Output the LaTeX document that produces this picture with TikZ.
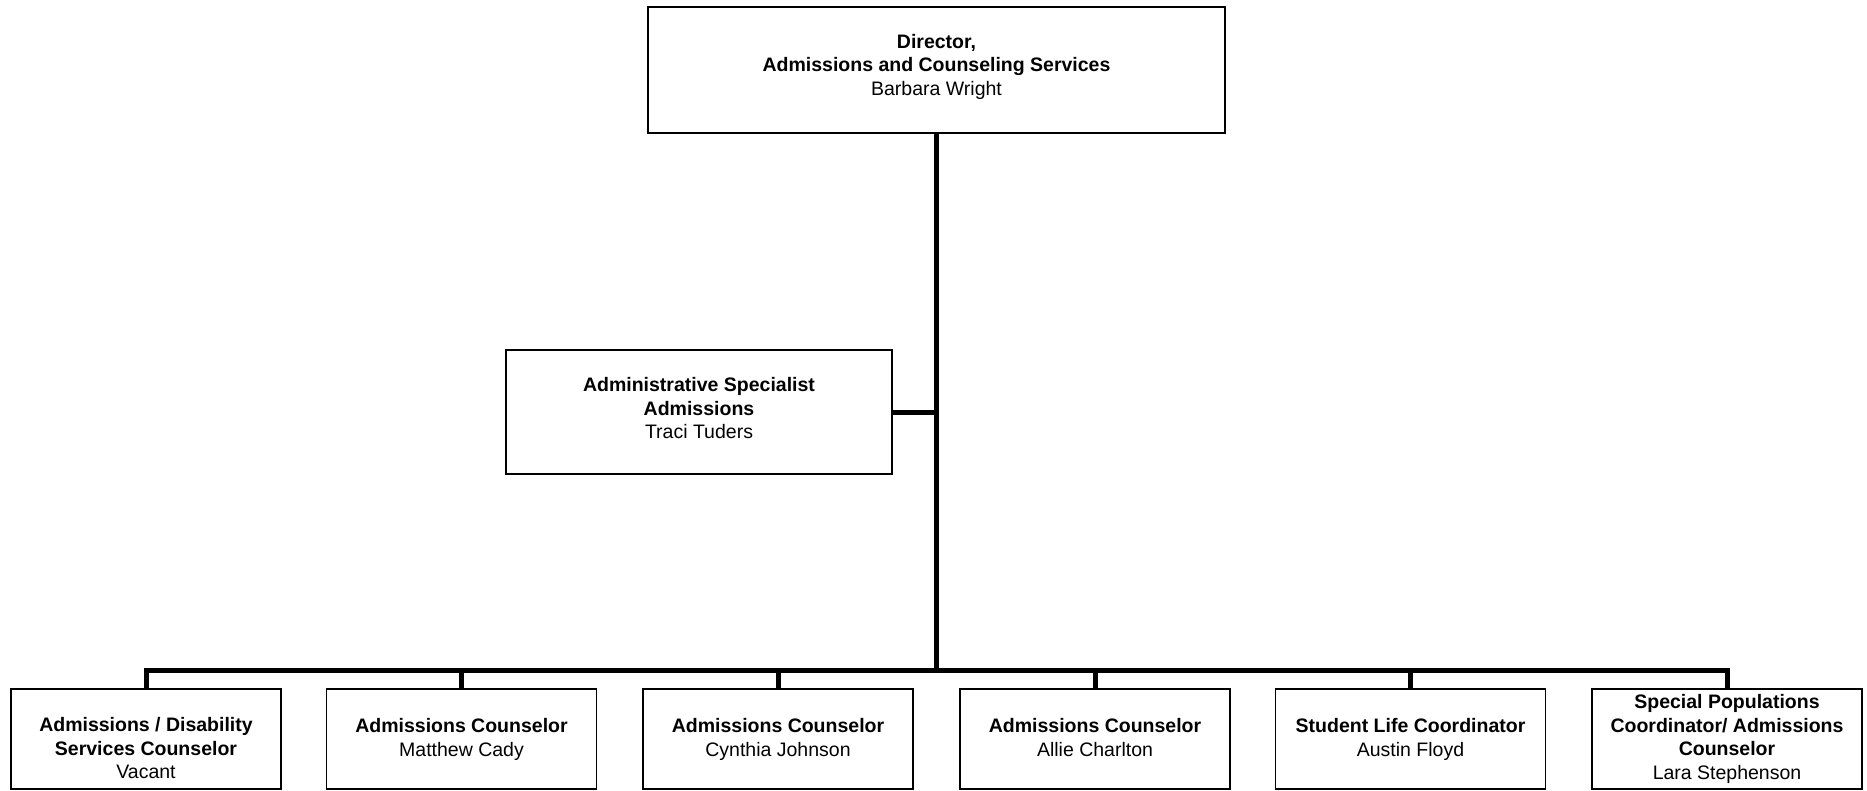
\documentclass[tikz,border=0pt]{standalone}
\usepackage{fontspec}
\setmainfont{Liberation Sans}
\begin{document}
\begin{tikzpicture}[x=1pt,y=-1pt,
  box/.style={draw, line width=1.6pt, inner sep=0pt},
  bbox/.style={box, minimum width=270pt, minimum height=100pt},
  txt/.style={align=center, inner sep=0pt, font=\fontsize{19.5}{23.5}\selectfont},
  conn/.style={line width=5pt}]
\useasboundingbox (0,0) rectangle (1867,790);
% boxes
\node[box, minimum width=577pt, minimum height=126pt] (top) at (936.5,70) {};
\node[txt] (ttop) at (936.5,67) {\strut\textbf{Director,}\\\textbf{Admissions and Counseling Services}\\Barbara Wright\strut};
\node[box, minimum width=386pt, minimum height=124pt] (admin) at (699,412) {};
\node[txt] (tadmin) at (699,410.5) {\strut\textbf{Administrative Specialist}\\\textbf{Admissions}\\Traci Tuders\strut};
\node[bbox] (b1) at (146,739) {};
\node[bbox] (b2) at (461.5,739) {};
\node[bbox] (b3) at (778,739) {};
\node[bbox] (b4) at (1095,739) {};
\node[bbox] (b5) at (1410.5,739) {};
\node[bbox] (b6) at (1727,739) {};
\node[txt] (t1) at (146,750.5) {\strut\textbf{Admissions / Disability}\\\textbf{Services Counselor}\\Vacant\strut};
\node[txt] (t2) at (461.5,740) {\strut\textbf{Admissions Counselor}\\Matthew Cady\strut};
\node[txt] (t3) at (778,740) {\strut\textbf{Admissions Counselor}\\Cynthia Johnson\strut};
\node[txt] (t4) at (1095,740) {\strut\textbf{Admissions Counselor}\\Allie Charlton\strut};
\node[txt] (t5) at (1410.5,740) {\strut\textbf{Student Life Coordinator}\\Austin Floyd\strut};
\node[txt] (t6) at (1727,739.5) {\strut\textbf{Special Populations}\\\textbf{Coordinator/ Admissions}\\\textbf{Counselor}\\Lara Stephenson\strut};
% connectors
\coordinate (bus) at (936.5,670);
\draw[conn] (top.south) -- (bus);
\draw[conn] (admin.east) -- (admin.east -| bus);
\draw[conn] (b1.north) -- (b1.north |- bus) -- (b6.north |- bus) -- (b6.north);
\foreach \b in {b2,b3,b4,b5} \draw[conn] (\b.north) -- (\b.north |- bus);
\end{tikzpicture}
\end{document}
